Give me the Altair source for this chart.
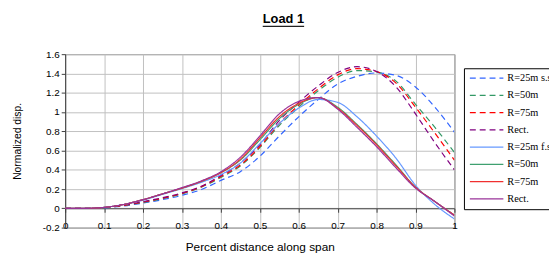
import altair as alt
import pandas as pd

# x positions (fraction of span)
x_vals = [0.0, 0.05, 0.1, 0.15, 0.2, 0.25, 0.3, 0.35, 0.4, 0.45, 0.5,
          0.55, 0.6, 0.65, 0.7, 0.75, 0.8, 0.85, 0.9, 0.95, 1.0]

# series labels (zero-width space keeps duplicate legend labels unique)
series_keys = ["R=25m s.s", "R=50m", "R=75m", "Rect.",
               "R=25m f.s", "R=50m\u200b", "R=75m\u200b", "Rect.\u200b"]

# dashed (s.s) series
ss_25 = [0, 0, 0.005, 0.025, 0.055, 0.09, 0.135, 0.195, 0.29, 0.38, 0.54,
         0.75, 0.95, 1.13, 1.29, 1.37, 1.405, 1.38, 1.26, 1.05, 0.79]
ss_50 = [0, 0, 0.008, 0.03, 0.06, 0.10, 0.15, 0.22, 0.32, 0.44, 0.63,
         0.86, 1.05, 1.22, 1.36, 1.43, 1.415, 1.32, 1.08, 0.84, 0.58]
ss_75 = [0, 0, 0.008, 0.03, 0.065, 0.105, 0.155, 0.225, 0.33, 0.45, 0.64,
         0.88, 1.07, 1.24, 1.385, 1.45, 1.42, 1.30, 1.05, 0.78, 0.50]
ss_rect = [0, 0, 0.01, 0.035, 0.07, 0.11, 0.16, 0.23, 0.34, 0.47, 0.66,
           0.91, 1.10, 1.27, 1.41, 1.47, 1.42, 1.26, 0.98, 0.68, 0.40]
# solid (f.s) series
fs_25 = [0, 0, 0.01, 0.04, 0.085, 0.145, 0.205, 0.27, 0.35, 0.47, 0.67,
         0.88, 1.04, 1.13, 1.10, 0.95, 0.75, 0.52, 0.24, 0.04, -0.11]
fs_50 = [0, 0, 0.01, 0.04, 0.09, 0.15, 0.21, 0.28, 0.37, 0.50, 0.71,
         0.93, 1.08, 1.15, 1.05, 0.87, 0.67, 0.45, 0.22, 0.07, -0.07]
fs_75 = [0, 0, 0.01, 0.04, 0.09, 0.15, 0.21, 0.28, 0.37, 0.51, 0.73,
         0.95, 1.09, 1.15, 1.04, 0.86, 0.66, 0.44, 0.22, 0.07, -0.07]
fs_rect = [0, 0, 0.01, 0.04, 0.09, 0.15, 0.215, 0.285, 0.38, 0.53, 0.75,
           0.98, 1.11, 1.15, 1.03, 0.84, 0.64, 0.42, 0.21, 0.07, -0.08]

series_values = [ss_25, ss_50, ss_75, ss_rect, fs_25, fs_50, fs_75, fs_rect]

colors = ["#3366FF", "#339966", "#FF0000", "#800080",
          "#6699FF", "#3FA070", "#F03030", "#993399"]
dashes = [[6, 4], [6, 4], [6, 4], [6, 4], [1, 0], [1, 0], [1, 0], [1, 0]]

x_ticks = [0, 0.1, 0.2, 0.3, 0.4, 0.5, 0.6, 0.7, 0.8, 0.9, 1.0]
y_ticks = [-0.2, 0, 0.2, 0.4, 0.6, 0.8, 1.0, 1.2, 1.4, 1.6]
chart_title = "Load 1"

rows = []
for key, vals in zip(series_keys, series_values):
    for xv, yv in zip(x_vals, vals):
        rows.append({"x": xv, "y": yv, "series": key})
df = pd.DataFrame(rows)

num_label = "replace(format(datum.value, '~g'), '\u2212', '-')"

legend = alt.Legend(
    title=None, orient="none", legendX=404.7, legendY=14.3,
    symbolType="stroke", symbolSize=1156, symbolStrokeWidth=1.3,
    clipHeight=10, rowPadding=6.5, padding=5,
    strokeColor="black", fillColor="white",
    labelFont="Liberation Serif", labelFontSize=10.5, labelColor="black",
    labelOffset=3, labelLimit=300,
)

lines = alt.Chart(df).mark_line(interpolate="monotone", strokeWidth=1.2, clip=True).encode(
    x=alt.X("x:Q", scale=alt.Scale(domain=[0, 1], nice=False),
            axis=alt.Axis(values=x_ticks, grid=True, gridColor="#C0C0C0",
                          offset=-19.6, domainColor="#404040", tickColor="#404040",
                          tickSize=4, labelBaseline="middle", labelPadding=14,
                          labelExpr=num_label,
                          labelFont="Liberation Sans", labelFontSize=10, labelColor="black",
                          labelFlush=False, labelOverlap=False,
                          title="Percent distance along span",
                          titleFont="Liberation Sans", titleFontSize=12,
                          titleFontWeight="normal", titleColor="black",
                          titleBaseline="middle", titleY=39)),
    y=alt.Y("y:Q", scale=alt.Scale(domain=[-0.2, 1.6], nice=False),
            axis=alt.Axis(values=y_ticks, grid=True, gridColor="#C0C0C0",
                          domainColor="#404040", tickColor="#404040",
                          tickSize=4, labelPadding=2,
                          labelFont="Liberation Sans", labelFontSize=10, labelColor="black",
                          labelExpr=num_label,
                          title="Normalized disp.",
                          titleFont="Liberation Sans", titleFontSize=10.5,
                          titleFontWeight="normal", titleColor="black",
                          titleAngle=270, titleAlign="center", titleBaseline="middle",
                          titleX=-48, titleY=88)),
    color=alt.Color("series:N", scale=alt.Scale(domain=series_keys, range=colors),
                    sort=series_keys, legend=legend),
    strokeDash=alt.StrokeDash("series:N", scale=alt.Scale(domain=series_keys, range=dashes),
                              sort=series_keys, legend=legend),
)

one = pd.DataFrame({"k": [0]})
title_text = alt.Chart(one).mark_text(
    font="Liberation Sans", fontSize=13, fontWeight="bold", color="black",
    align="center", baseline="middle",
).encode(x=alt.value(221.5), y=alt.value(-35.5), text=alt.value(chart_title))

underline = alt.Chart(one).mark_rule(color="#202020", strokeWidth=1.3).encode(
    x=alt.value(200.5), x2=alt.value(242.5), y=alt.value(-28.1)
)

chart = alt.layer(lines, title_text, underline).properties(
    width=395, height=176,
    padding={"left": 58, "top": 45, "right": 96, "bottom": 30},
    autosize=alt.AutoSizeParams(type="none"),
).configure_view(stroke="#606060", strokeWidth=1)

chart.save("out.html", embed_options={"renderer": "svg", "actions": False})
